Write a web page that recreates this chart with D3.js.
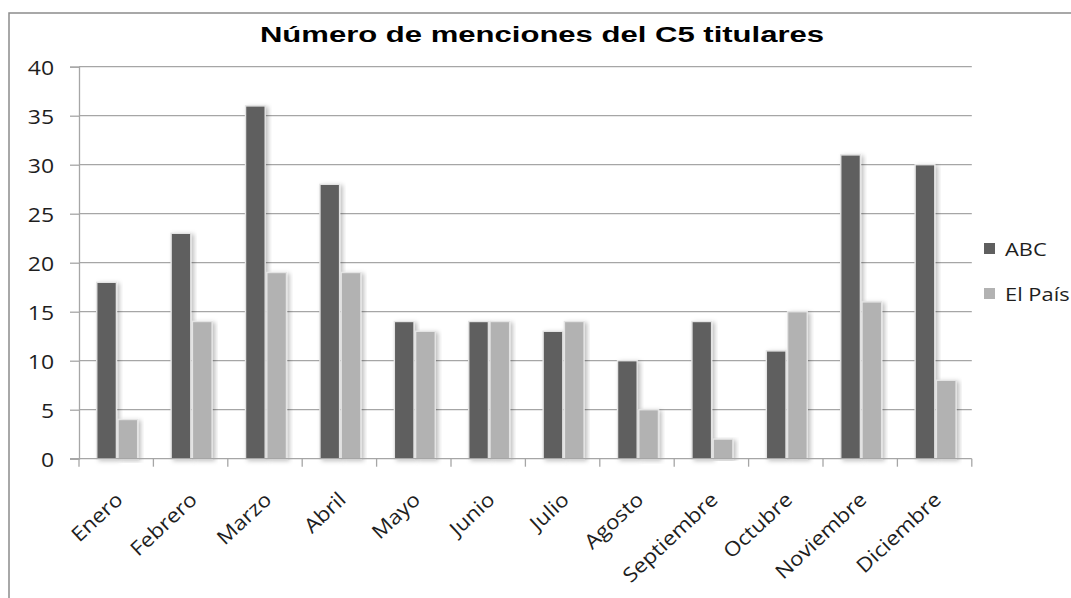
<!DOCTYPE html>
<html>
<head>
<meta charset="utf-8" />
<script src="https://cdn.jsdelivr.net/npm/d3@7"></script>
<title>menciones</title>
<style>
  body { margin: 0; background: #fff; }
  text { fill: #1e1e1e; }
</style>
</head>
<body>
<script>
// data
var months = ["Enero", "Febrero", "Marzo", "Abril", "Mayo", "Junio", "Julio",
              "Agosto", "Septiembre", "Octubre", "Noviembre", "Diciembre"];
var abc = [18, 23, 36, 28, 14, 14, 13, 10, 14, 11, 31, 30];
var elPais = [4, 14, 19, 19, 13, 14, 14, 5, 2, 15, 16, 8];
var seriesNames = ["ABC", "El País"];
var yTicks = [0, 5, 10, 15, 20, 25, 30, 35, 40];

var W = 1071, H = 598;
var colors = ["#5f5f5f", "#b2b2b2"];

var svg = d3.select("body").append("svg")
  .attr("width", W)
  .attr("height", H);

var defs = svg.append("defs");
defs.append("filter")
  .attr("id", "shadow")
  .attr("x", "-30%").attr("y", "-10%")
  .attr("width", "160%").attr("height", "120%")
  .append("feDropShadow")
  .attr("dx", 2.5).attr("dy", 1.5)
  .attr("stdDeviation", 2)
  .attr("flood-color", "#000")
  .attr("flood-opacity", 0.25);

// chart frame, cut off at the right and bottom
svg.append("rect")
  .attr("x", 9).attr("y", 13)
  .attr("width", W + 20).attr("height", H + 20)
  .attr("fill", "none")
  .attr("stroke", "#8c8c8c")
  .attr("stroke-width", 1.5);

var x = d3.scaleBand().domain(months).range([79, 971.8]).padding(0);
var y = d3.scaleLinear().domain([0, 40]).range([458.7, 66.7]);

var bw = x.bandwidth() / 3.5;
var xs = d3.scaleBand().domain(seriesNames)
  .range([x.bandwidth() / 2 - bw + 1, x.bandwidth() / 2 + bw + 1]);

// gridlines
svg.append("g")
  .selectAll("line")
  .data(yTicks.slice(1))
  .join("line")
  .attr("x1", 79).attr("x2", 971.8)
  .attr("y1", function(d) { return y(d); })
  .attr("y2", function(d) { return y(d); })
  .attr("stroke", "#a6a6a6")
  .attr("stroke-width", 1.3);

// y axis
var yAxis = svg.append("g")
  .attr("transform", "translate(79,0)")
  .call(d3.axisLeft(y).tickValues(yTicks).tickSize(9).tickPadding(0));
yAxis.select(".domain").attr("stroke", "#a6a6a6").attr("stroke-width", 1.3);
yAxis.selectAll(".tick line").attr("stroke", "#a6a6a6").attr("stroke-width", 1.3);
yAxis.selectAll(".tick text")
  .attr("x", null)
  .attr("dy", "0.36em")
  .attr("font-family", "'Open Sans', sans-serif")
  .attr("font-size", 20.5)
  .attr("text-anchor", "end")
  .attr("transform", "translate(-25,0) scale(1.12,1)");

// bars
var rows = months.map(function(m, i) {
  return { month: m, vals: [abc[i], elPais[i]] };
});
var groups = svg.append("g")
  .selectAll("g")
  .data(rows)
  .join("g")
  .attr("transform", function(d) { return "translate(" + x(d.month) + ",0)"; });

groups.selectAll("rect")
  .data(function(d) {
    return d.vals.map(function(v, k) { return { name: seriesNames[k], v: v, k: k }; });
  })
  .join("rect")
  .attr("x", function(d) { return xs(d.name) + 0.8; })
  .attr("y", function(d) { return y(d.v); })
  .attr("width", xs.bandwidth() - 1.6)
  .attr("height", function(d) { return y(0) - y(d.v); })
  .attr("fill", function(d) { return colors[d.k]; })
  .attr("stroke", "#e4e4e4")
  .attr("stroke-width", 1.4)
  .attr("filter", "url(#shadow)");

// x axis
var xAxis = svg.append("g")
  .attr("transform", "translate(0," + y(0) + ")");
xAxis.append("line")
  .attr("x1", 70).attr("x2", 971.8)
  .attr("stroke", "#a6a6a6").attr("stroke-width", 1.3);
xAxis.selectAll("line.tk")
  .data(months.concat(["end"]))
  .join("line")
  .attr("class", "tk")
  .attr("x1", function(d, i) { return 79 + i * x.bandwidth(); })
  .attr("x2", function(d, i) { return 79 + i * x.bandwidth(); })
  .attr("y1", 0).attr("y2", 8)
  .attr("stroke", "#a6a6a6").attr("stroke-width", 1.3);

xAxis.selectAll("text")
  .data(months)
  .join("text")
  .attr("transform", function(d) {
    return "translate(" + (x(d) + x.bandwidth() / 2 - 2) + ",32) rotate(-43) scale(1.12,1)";
  })
  .attr("text-anchor", "end")
  .attr("dy", "0.72em")
  .attr("font-family", "'Open Sans', sans-serif")
  .attr("font-size", 20)
  .text(function(d) { return d; });

// title
svg.append("text")
  .attr("transform", "translate(542,42) scale(1.38,1)")
  .attr("text-anchor", "middle")
  .attr("font-family", "'Liberation Sans', Arial, sans-serif")
  .attr("font-weight", "bold")
  .attr("font-size", 22.5)
  .style("fill", "#000")
  .text("Número de menciones del C5 titulares");

// legend
var legend = svg.append("g")
  .selectAll("g")
  .data(seriesNames)
  .join("g")
  .attr("transform", function(d, i) { return "translate(984," + (243 + i * 45) + ")"; });
legend.append("rect")
  .attr("width", 11).attr("height", 11)
  .attr("fill", function(d, i) { return colors[i]; });
legend.append("text")
  .attr("transform", "translate(21,12.5) scale(1.25,1)")
  .attr("font-family", "'Open Sans', sans-serif")
  .attr("font-size", 17.5)
  .text(function(d) { return d; });
</script>
</body>
</html>
